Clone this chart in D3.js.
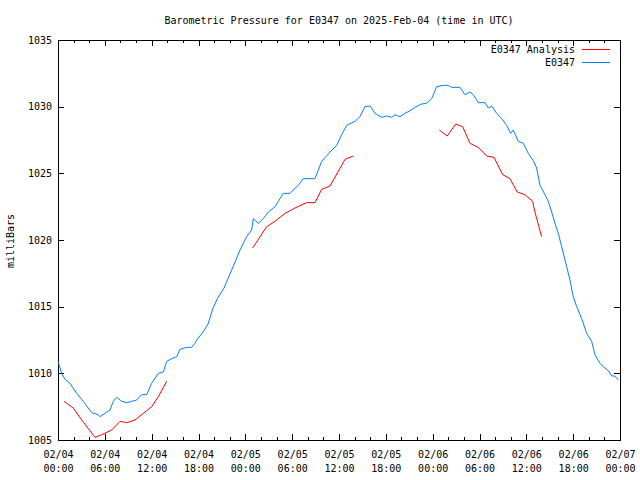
<!DOCTYPE html>
<html><head><meta charset="utf-8">
<script src="https://cdn.jsdelivr.net/npm/d3@7"></script>
<style>
body{margin:0;background:#fff;}
text{font-family:"DejaVu Sans Mono","Liberation Mono",monospace;font-size:10px;fill:#000;}
</style></head>
<body><svg id="c" width="640" height="480"></svg>
<script>
const title = "Barometric Pressure for E0347 on 2025-Feb-04 (time in UTC)";
const yLabel = "milliBars";
const seriesNames = ["E0347 Analysis", "E0347"];
const yTicks = [1005, 1010, 1015, 1020, 1025, 1030, 1035];
// hours since 2025-02-04 00:00 UTC
const blueHours = [0,0.47,0.9,1.54,2.4,3.24,4.32,5.16,5.38,6.02,6.66,7.08,7.52,8.16,8.8,9.44,10.08,10.72,11.36,12.0,12.85,13.49,13.93,14.57,15.21,15.63,16.49,17.13,17.55,17.77,18.58,19.22,19.86,20.5,21.27,22.25,23.32,24.17,24.81,25.02,25.66,26.3,26.94,27.8,28.44,28.86,29.72,30.14,30.78,31.42,32.28,32.92,33.78,34.85,35.7,36.34,36.98,38.05,38.69,39.33,39.97,40.61,41.47,42.11,42.75,43.17,43.81,44.45,45.09,45.73,46.59,47.23,47.87,48.51,49.36,50.0,50.43,51.5,52.14,52.78,53.2,53.84,54.7,55.13,55.56,56.2,56.84,57.48,57.99,58.33,58.97,59.61,60.25,60.89,61.32,61.75,62.39,62.81,63.25,63.67,64.09,64.53,65.17,65.59,66.01,66.45,67.09,67.73,68.37,68.79,69.43,69.86,70.5,70.93,71.35,71.77];
const bluePressure = [1010.9,1010.0,1009.55,1009.25,1008.5,1007.9,1007.05,1006.9,1006.75,1007.0,1007.25,1007.9,1008.2,1007.9,1007.8,1007.9,1008.0,1008.4,1008.4,1009.25,1010.0,1010.1,1010.9,1011.1,1011.25,1011.8,1011.95,1011.95,1012.25,1012.5,1013.1,1013.7,1014.9,1015.7,1016.4,1017.75,1019.25,1020.25,1020.75,1021.6,1021.25,1021.6,1022.1,1022.5,1023.1,1023.5,1023.5,1023.75,1024.1,1024.6,1024.6,1024.6,1025.9,1026.6,1027.1,1027.9,1028.6,1028.9,1029.25,1030.0,1030.05,1029.5,1029.2,1029.3,1029.2,1029.4,1029.25,1029.5,1029.7,1029.95,1030.2,1030.25,1030.6,1031.5,1031.6,1031.6,1031.45,1031.45,1030.9,1031.1,1030.9,1030.3,1030.3,1029.9,1030.05,1029.5,1029.1,1028.6,1028.0,1028.25,1027.4,1027.25,1026.5,1025.95,1025.4,1024.1,1023.4,1022.9,1022.1,1021.25,1020.5,1019.5,1018.0,1017.0,1015.75,1015.0,1014.1,1013.0,1012.4,1011.4,1010.75,1010.5,1010.2,1009.8,1009.8,1009.5];
const redHours = [0.77,1.96,3.04,4.74,5.6,6.88,7.94,8.8,9.86,11.36,12.0,12.85,13.93,null,24.94,26.73,27.8,29.08,30.36,31.86,32.92,33.78,34.85,36.77,37.83,null,48.85,49.87,50.95,51.84,52.78,53.84,54.92,55.86,56.97,57.9,58.84,59.82,60.81,61.1,61.96];
const redPressure = [1007.9,1007.4,1006.5,1005.2,1005.4,1005.75,1006.4,1006.3,1006.5,1007.2,1007.5,1008.25,1009.4,null,1019.4,1021.0,1021.4,1022.0,1022.4,1022.8,1022.8,1023.8,1024.05,1026.05,1026.3,null,1028.25,1027.8,1028.7,1028.5,1027.25,1026.95,1026.3,1026.2,1024.9,1024.6,1023.6,1023.4,1022.9,1022.1,1020.25];

const t0 = Date.UTC(2025,1,4,0,0);
const toDate = h => new Date(t0 + h*3600000);
const L=58,R=620,T=40,B=440;
const svg = d3.select("#c");
const x = d3.scaleUtc().domain([toDate(0), toDate(72)]).range([L,R]);
const y = d3.scaleLinear().domain([1005,1035]).range([B,T]);

const major = d3.utcHour.every(6), minor = d3.utcHour.every(2);
function axisStyle(g){ g.select(".domain").remove(); g.selectAll("line").attr("stroke","#000").attr("shape-rendering","crispEdges"); }

svg.append("g").attr("transform",`translate(0,${B})`).call(d3.axisBottom(x).ticks(minor).tickSize(-3).tickFormat("")).call(axisStyle);
svg.append("g").attr("transform",`translate(0,${T})`).call(d3.axisTop(x).ticks(minor).tickSize(-3).tickFormat("")).call(axisStyle);
svg.append("g").attr("transform",`translate(0,${T})`).call(d3.axisTop(x).ticks(major).tickSize(-6).tickFormat("")).call(axisStyle);
const xb = svg.append("g").attr("transform",`translate(0,${B})`).call(d3.axisBottom(x).ticks(major).tickSize(-6).tickPadding(0).tickFormat(d3.utcFormat("%m/%d|%H:%M"))).call(axisStyle);
xb.selectAll("text").each(function(){
  const s=d3.select(this); const parts=s.text().split("|"); s.text("").attr("y",null).attr("dy",null);
  s.append("tspan").attr("x",0).attr("y",18).text(parts[0]);
  s.append("tspan").attr("x",0).attr("y",32).text(parts[1]);
}).attr("font-family",null).attr("font-size",null);

svg.append("g").attr("transform",`translate(${L},0)`).call(d3.axisLeft(y).tickValues(yTicks).tickSize(-6).tickPadding(6).tickFormat(d3.format("d"))).call(axisStyle)
  .selectAll("text").attr("font-family",null).attr("font-size",null);
svg.append("g").attr("transform",`translate(${R},0)`).call(d3.axisRight(y).tickValues(yTicks).tickSize(-6).tickFormat("")).call(axisStyle);

svg.append("rect").attr("x",L).attr("y",T).attr("width",R-L).attr("height",B-T).attr("fill","none").attr("stroke","#000").attr("shape-rendering","crispEdges");

const blue = blueHours.map((h,i)=>({t:toDate(h),p:bluePressure[i]}));
const red = redHours.map((h,i)=>({t:h===null?null:toDate(h),p:redPressure[i]}));
const line = d3.line().defined(d=>d.t!==null && d.p!==null).x(d=>x(d.t)).y(d=>y(d.p));
svg.append("path").datum(red).attr("d",line).attr("fill","none").attr("stroke","#ff0000").attr("stroke-width",1);
svg.append("path").datum(blue).attr("d",line).attr("fill","none").attr("stroke","#0080ff").attr("stroke-width",1);

svg.append("text").attr("x",(L+R)/2).attr("y",24).attr("text-anchor","middle").text(title);
svg.append("text").attr("transform","translate(14,241) rotate(-90)").attr("text-anchor","middle").text(yLabel);

const colors=["#ff0000","#0080ff"];
seriesNames.forEach((n,i)=>{
  const yy = 49 + i*13;
  svg.append("text").attr("x",575).attr("y",yy+4).attr("text-anchor","end").text(n);
  svg.append("line").attr("x1",582).attr("x2",610).attr("y1",yy).attr("y2",yy).attr("stroke",colors[i]).attr("stroke-width",1).attr("shape-rendering","crispEdges");
});
</script></body></html>
